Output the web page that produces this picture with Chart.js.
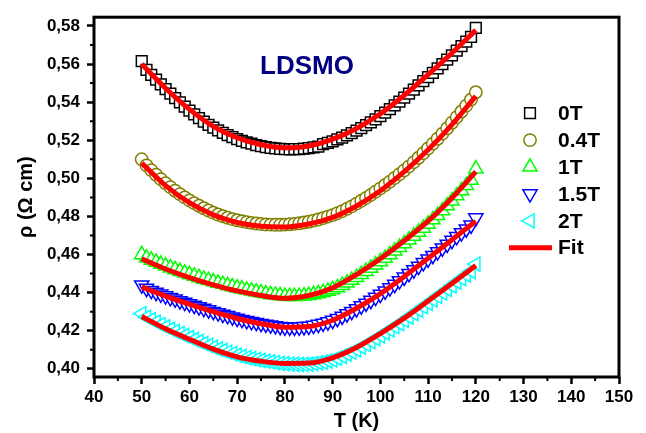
<!DOCTYPE html>
<html>
<head>
<meta charset="utf-8">
<title>LDSMO resistivity</title>
<script src="https://cdn.jsdelivr.net/npm/chart.js@4.4.1/dist/chart.umd.min.js"></script>
<style>
  html, body { margin: 0; padding: 0; background: #fff; }
  #wrap { width: 646px; height: 433px; }
</style>
</head>
<body>
<div id="wrap"><canvas id="rhoChart" width="646" height="433"></canvas></div>
<script>
// Temperature (K) of the measured points
const temps = [50, 51, 52, 53, 54, 55, 56, 57, 58, 59, 60, 61, 62, 63, 64, 65, 66, 67, 68, 69,
  70, 71, 72, 73, 74, 75, 76, 77, 78, 79, 80, 81, 82, 83, 84, 85, 86, 87, 88, 89,
  90, 91, 92, 93, 94, 95, 96, 97, 98, 99, 100, 101, 102, 103, 104, 105, 106, 107, 108, 109,
  110, 111, 112, 113, 114, 115, 116, 117, 118, 119, 120];

// Resistivity (Ohm cm) for each field
const rho0T = [0.5615, 0.5570, 0.5543, 0.5518, 0.5493, 0.5468, 0.5445, 0.5421, 0.5399, 0.5377,
  0.5356, 0.5336, 0.5316, 0.5298, 0.5281, 0.5266, 0.5252, 0.5239, 0.5227, 0.5216,
  0.5206, 0.5197, 0.5189, 0.5182, 0.5175, 0.5169, 0.5164, 0.5160, 0.5157, 0.5155,
  0.5153, 0.5152, 0.5153, 0.5154, 0.5156, 0.5158, 0.5162, 0.5166, 0.5180, 0.5186,
  0.5194, 0.5204, 0.5214, 0.5225, 0.5237, 0.5250, 0.5264, 0.5279, 0.5294, 0.5310,
  0.5327, 0.5345, 0.5364, 0.5383, 0.5403, 0.5424, 0.5445, 0.5466, 0.5488, 0.5510,
  0.5532, 0.5554, 0.5577, 0.5600, 0.5623, 0.5646, 0.5670, 0.5694, 0.5718, 0.5743, 0.5790];
const rho04T = [0.5100, 0.5068, 0.5043, 0.5019, 0.4996, 0.4974, 0.4954, 0.4935, 0.4917, 0.4900,
  0.4884, 0.4870, 0.4856, 0.4843, 0.4831, 0.4820, 0.4810, 0.4801, 0.4793, 0.4786,
  0.4780, 0.4775, 0.4770, 0.4766, 0.4763, 0.4760, 0.4758, 0.4757, 0.4756, 0.4756,
  0.4757, 0.4759, 0.4761, 0.4764, 0.4768, 0.4772, 0.4778, 0.4784, 0.4791, 0.4799,
  0.4807, 0.4817, 0.4828, 0.4840, 0.4853, 0.4867, 0.4882, 0.4897, 0.4913, 0.4930,
  0.4947, 0.4965, 0.4983, 0.5002, 0.5022, 0.5042, 0.5063, 0.5085, 0.5108, 0.5132,
  0.5157, 0.5182, 0.5208, 0.5235, 0.5263, 0.5292, 0.5321, 0.5351, 0.5382, 0.5414, 0.5452];
const rho1T = [0.4600, 0.4582, 0.4571, 0.4560, 0.4550, 0.4540, 0.4530, 0.4521, 0.4512, 0.4503,
  0.4495, 0.4487, 0.4479, 0.4471, 0.4464, 0.4457, 0.4450, 0.4444, 0.4437, 0.4431,
  0.4425, 0.4420, 0.4414, 0.4409, 0.4404, 0.4399, 0.4394, 0.4390, 0.4387, 0.4384,
  0.4381, 0.4380, 0.4380, 0.4381, 0.4383, 0.4386, 0.4390, 0.4395, 0.4401, 0.4408,
  0.4416, 0.4426, 0.4438, 0.4451, 0.4465, 0.4480, 0.4496, 0.4512, 0.4529, 0.4546,
  0.4563, 0.4581, 0.4600, 0.4619, 0.4638, 0.4657, 0.4677, 0.4697, 0.4718, 0.4739,
  0.4760, 0.4783, 0.4806, 0.4830, 0.4856, 0.4882, 0.4909, 0.4936, 0.4963, 0.4991, 0.5050];
const rho15T = [0.4440, 0.4422, 0.4411, 0.4401, 0.4392, 0.4383, 0.4374, 0.4366, 0.4357, 0.4349,
  0.4341, 0.4333, 0.4325, 0.4317, 0.4309, 0.4301, 0.4294, 0.4286, 0.4279, 0.4272,
  0.4265, 0.4259, 0.4253, 0.4248, 0.4243, 0.4238, 0.4234, 0.4230, 0.4226, 0.4222,
  0.4219, 0.4218, 0.4218, 0.4219, 0.4221, 0.4223, 0.4228, 0.4233, 0.4239, 0.4246,
  0.4254, 0.4264, 0.4276, 0.4288, 0.4301, 0.4315, 0.4330, 0.4344, 0.4359, 0.4375,
  0.4391, 0.4408, 0.4425, 0.4443, 0.4462, 0.4481, 0.4500, 0.4519, 0.4538, 0.4557,
  0.4576, 0.4595, 0.4614, 0.4634, 0.4654, 0.4674, 0.4694, 0.4714, 0.4734, 0.4754, 0.4792];
const rho2T = [0.4290, 0.4271, 0.4258, 0.4245, 0.4232, 0.4220, 0.4208, 0.4197, 0.4186, 0.4175,
  0.4165, 0.4154, 0.4144, 0.4133, 0.4123, 0.4113, 0.4104, 0.4096, 0.4088, 0.4080,
  0.4072, 0.4065, 0.4059, 0.4054, 0.4049, 0.4044, 0.4040, 0.4036, 0.4032, 0.4029,
  0.4027, 0.4025, 0.4024, 0.4023, 0.4023, 0.4024, 0.4027, 0.4031, 0.4035, 0.4041,
  0.4047, 0.4056, 0.4066, 0.4077, 0.4088, 0.4100, 0.4114, 0.4128, 0.4143, 0.4158,
  0.4173, 0.4189, 0.4205, 0.4221, 0.4237, 0.4254, 0.4272, 0.4290, 0.4308, 0.4326,
  0.4344, 0.4362, 0.4380, 0.4399, 0.4417, 0.4436, 0.4455, 0.4474, 0.4492, 0.4511, 0.4550];

// Fitted curves
const fitTemps = [50, 55, 60, 65, 70, 75, 80, 85, 90, 95, 100, 105, 110, 115, 120];
const fit0T = [0.5600, 0.5473, 0.5362, 0.5273, 0.5213, 0.5176, 0.5160, 0.5170, 0.5206, 0.5262, 0.5339, 0.5436, 0.5544, 0.5658, 0.5778];
const fit04T = [0.5080, 0.4962, 0.4872, 0.4808, 0.4768, 0.4748, 0.4745, 0.4760, 0.4795, 0.4855, 0.4935, 0.5035, 0.5150, 0.5282, 0.5432];
const fit1T = [0.4578, 0.4524, 0.4479, 0.4441, 0.4409, 0.4385, 0.4370, 0.4385, 0.4425, 0.4495, 0.4578, 0.4672, 0.4775, 0.4897, 0.5035];
const fit15T = [0.4430, 0.4382, 0.4340, 0.4300, 0.4264, 0.4237, 0.4218, 0.4222, 0.4255, 0.4318, 0.4395, 0.4485, 0.4580, 0.4678, 0.4775];
const fit2T = [0.4275, 0.4210, 0.4155, 0.4103, 0.4063, 0.4040, 0.4028, 0.4030, 0.4058, 0.4112, 0.4185, 0.4266, 0.4356, 0.4448, 0.4542];

const fieldLabels = ['0T', '0.4T', '1T', '1.5T', '2T'];
const xTicks = [40, 50, 60, 70, 80, 90, 100, 110, 120, 130, 140, 150];
const yTicks = [0.40, 0.42, 0.44, 0.46, 0.48, 0.50, 0.52, 0.54, 0.56, 0.58];

const FONT = '"Liberation Sans", Arial, sans-serif';

const toPoints = (xs, ys) => xs.map((t, i) => ({ x: t, y: ys[i] }));

const markerStyles = [
    { color: '#000000', pointStyle: 'rect', radius: 7.6, rotation: 0 },
    { color: '#808000', pointStyle: 'circle', radius: 6.2, rotation: 0 },
    { color: '#00ff00', pointStyle: 'triangle', radius: 8.2, rotation: 0 },
    { color: '#0000ff', pointStyle: 'triangle', radius: 8.2, rotation: 180 },
    { color: '#00ffff', pointStyle: 'triangle', radius: 8.2, rotation: 270 }
];

const measured = [rho0T, rho04T, rho1T, rho15T, rho2T];
const fits = [fit0T, fit04T, fit1T, fit15T, fit2T];

const datasets = [];
measured.forEach((vals, i) => {
    const s = markerStyles[i];
    datasets.push({
        label: fieldLabels[i],
        data: toPoints(temps, vals),
        showLine: false,
        pointStyle: s.pointStyle,
        pointRotation: s.rotation,
        pointRadius: s.radius,
        pointBorderWidth: 1.5,
        pointBorderColor: s.color,
        pointBackgroundColor: '#ffffff',
        order: 1
    });
});
fits.forEach((vals) => {
    datasets.push({
        label: 'Fit',
        data: toPoints(fitTemps, vals),
        showLine: true,
        borderColor: '#ff0000',
        borderWidth: 5,
        pointRadius: 0,
        cubicInterpolationMode: 'monotone',
        order: 0
    });
});

// frame, minor ticks, sample name and legend inside the plot
const decorations = {
    id: 'decorations',
    afterDraw(chart) {
        const { ctx, chartArea: a, scales: { x, y } } = chart;
        ctx.save();
        ctx.strokeStyle = '#000';
        ctx.lineWidth = 2;
        ctx.beginPath();
        for (let i = 0; i < xTicks.length - 1; i++) {
            const px = x.getPixelForValue((xTicks[i] + xTicks[i + 1]) / 2);
            ctx.moveTo(px, a.bottom);
            ctx.lineTo(px, a.bottom + 4);
        }
        for (let i = 0; i < yTicks.length - 1; i++) {
            const py = y.getPixelForValue((yTicks[i] + yTicks[i + 1]) / 2);
            ctx.moveTo(a.left, py);
            ctx.lineTo(a.left - 4, py);
        }
        ctx.stroke();

        ctx.lineWidth = 3;
        ctx.strokeRect(a.left, a.top, a.right - a.left, a.bottom - a.top);

        // sample name
        ctx.fillStyle = '#000080';
        ctx.font = 'bold 26px ' + FONT;
        ctx.textAlign = 'center';
        ctx.textBaseline = 'middle';
        ctx.fillText('LDSMO', a.left + 213, a.top + 50);

        // legend
        const symX = a.right - 89;
        const textX = a.right - 61;
        const rowY = a.top + 96;
        const step = 26.9;
        ctx.font = 'bold 21px ' + FONT;
        ctx.textAlign = 'left';
        markerStyles.forEach((s, i) => {
            const yy = rowY + i * step;
            ctx.strokeStyle = s.color;
            ctx.fillStyle = '#ffffff';
            ctx.lineWidth = 1.5;
            Chart.helpers.drawPoint(ctx, {
                pointStyle: s.pointStyle, radius: s.radius, rotation: s.rotation, borderWidth: 1.5
            }, symX, yy);
            ctx.fillStyle = '#000';
            ctx.fillText(fieldLabels[i], textX, yy + 1);
        });
        const fitY = rowY + 5 * step;
        ctx.strokeStyle = '#ff0000';
        ctx.lineWidth = 5;
        ctx.beginPath();
        ctx.moveTo(symX - 21, fitY);
        ctx.lineTo(symX + 22, fitY);
        ctx.stroke();
        ctx.fillStyle = '#000';
        ctx.fillText('Fit', textX, fitY + 1);
        ctx.restore();
    }
};

const axisTicks = (values) => (scale) => {
    scale.ticks = values.map(v => ({ value: v }));
};

new Chart(document.getElementById('rhoChart'), {
    type: 'scatter',
    data: { datasets },
    options: {
        responsive: false,
        animation: false,
        devicePixelRatio: 1,
        layout: { padding: { top: 10, right: 27, left: 0, bottom: 0 } },
        plugins: { legend: { display: false }, tooltip: { enabled: false } },
        scales: {
            x: {
                type: 'linear',
                min: 40,
                max: 150,
                afterBuildTicks: axisTicks(xTicks),
                afterFit(scale) { scale.height = 56; },
                grid: { drawOnChartArea: false, drawTicks: true, tickLength: 7, tickWidth: 2.5, tickColor: '#000' },
                border: { display: false },
                ticks: { color: '#000', padding: 3, maxRotation: 0, font: { family: FONT, size: 17, weight: 'bold' } },
                title: {
                    display: true,
                    text: 'T (K)',
                    color: '#000',
                    padding: { top: 0, bottom: 0 },
                    font: { family: FONT, size: 20, weight: 'bold' }
                }
            },
            y: {
                type: 'linear',
                min: 0.3957,
                max: 0.5846,
                afterBuildTicks: axisTicks(yTicks),
                afterFit(scale) { scale.width = 94; },
                grid: { drawOnChartArea: false, drawTicks: true, tickLength: 7, tickWidth: 2.5, tickColor: '#000' },
                border: { display: false },
                ticks: {
                    color: '#000',
                    padding: 7,
                    font: { family: FONT, size: 17, weight: 'bold' },
                    callback: (v) => v.toFixed(2).replace('.', ',')
                },
                title: {
                    display: true,
                    text: 'ρ (Ω cm)',
                    color: '#000',
                    padding: { top: 14, bottom: 0 },
                    font: { family: FONT, size: 20, weight: 'bold' }
                }
            }
        }
    },
    plugins: [decorations]
});
</script>
</body>
</html>
